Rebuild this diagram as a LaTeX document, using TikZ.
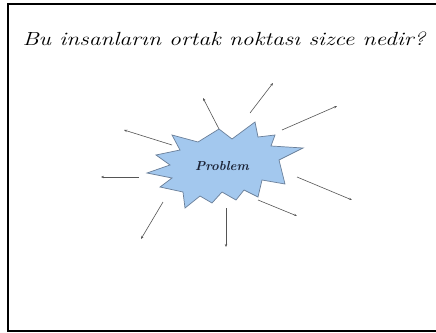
\documentclass[tikz,border=0pt]{standalone}
\usepackage{fontspec}
\usetikzlibrary{arrows.meta}
\definecolor{starfill}{HTML}{A3C8EE}
\definecolor{starline}{HTML}{6A7F99}
\definecolor{arrowcol}{HTML}{555555}
\definecolor{txtcol}{HTML}{1C2437}
\tikzset{
  ray/.style={draw=arrowcol, line width=0.6pt, -{Stealth[length=3pt,width=2.4pt]}},
  frame/.style={draw=black, line width=1.6pt},
  burst/.style={fill=starfill, draw=starline, line width=0.7pt, line join=miter},
}
\begin{document}
\begin{tikzpicture}[x=1pt,y=-1pt]
\useasboundingbox (0,0) rectangle (436,332);
\fill[white] (0,0) rectangle (436,332);
\draw[frame] (436,4) -- (8,4) -- (8,331) -- (436,331);
\node[font=\fontsize{19}{22}\selectfont\itshape, text=black, xscale=1.24] (title) at (224,39) {Bu insanların ortak noktası sizce nedir?};
\draw[burst] (219,129) -- (232,139) -- (255,122) -- (258,137) -- (275,135) -- (271,146)
  -- (303,148) -- (279,160) -- (285,184) -- (262,180) -- (258,197) -- (244,190)
  -- (236,200) -- (222,192) -- (212,203) -- (200,196) -- (185,208) -- (183,192)
  -- (160,187) -- (172,178) -- (147,173) -- (170,165) -- (156,155) -- (180,150)
  -- (172,135) -- (198,142) -- cycle;
\node[font=\fontsize{13}{15}\selectfont\bfseries\itshape, text=txtcol] (prob) at (222,166) {Problem};
% arrow coordinates
\coordinate (s1) at (219,129); \coordinate (e1) at (203,98);
\coordinate (s2) at (250,113); \coordinate (e2) at (273,83);
\coordinate (s3) at (282,130); \coordinate (e3) at (337,106);
\coordinate (s4) at (297,177); \coordinate (e4) at (352,200);
\coordinate (s5) at (258,200); \coordinate (e5) at (297,216);
\coordinate (s6) at (226,208); \coordinate (e6) at (226,247);
\coordinate (s7) at (163,202); \coordinate (e7) at (141,239);
\coordinate (s8) at (139,177); \coordinate (e8) at (101,177);
\coordinate (s9) at (172,145); \coordinate (e9) at (124,130);
\foreach \i in {1,...,9} { \draw[ray] (s\i) -- (e\i); }
\end{tikzpicture}
\end{document}
